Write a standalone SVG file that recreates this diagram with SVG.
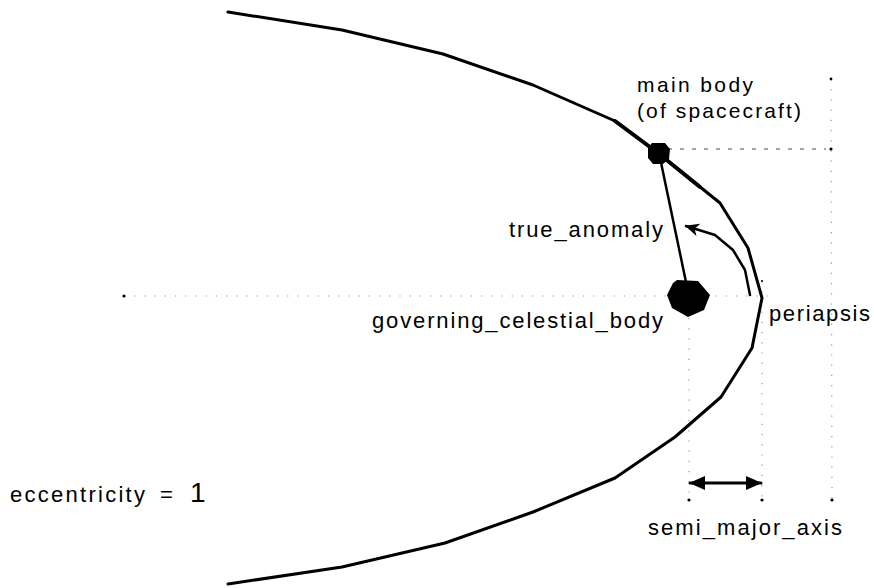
<svg xmlns="http://www.w3.org/2000/svg" width="874" height="588" viewBox="0 0 874 588">
<style>
  .lbl { font-family: "Liberation Sans", Arial, sans-serif; font-size: 22px; fill: #000; }
  .sm { font-size: 21px; }
  .orbit { fill: none; stroke: #000; stroke-width: 3; stroke-linejoin: round; stroke-linecap: round; }
  .line { fill: none; stroke: #000; stroke-width: 2.5; stroke-linecap: round; stroke-linejoin: round; }
  .dots { fill: none; stroke: #9a9a9a; stroke-width: 1.2; stroke-dasharray: 1.2 9; }
  .dash { fill: none; stroke: #888; stroke-width: 1.3; stroke-dasharray: 4 8; }
  .body { fill: #000; }
</style>
<defs>
  <marker id="head" markerUnits="userSpaceOnUse" markerWidth="16" markerHeight="14" refX="15" refY="7" orient="auto">
    <path d="M0,0 L16,7 L0,14 Z" fill="#000"/>
  </marker>
  <marker id="headStart" markerUnits="userSpaceOnUse" markerWidth="16" markerHeight="14" refX="1" refY="7" orient="auto">
    <path d="M16,0 L0,7 L16,14 Z" fill="#000"/>
  </marker>
  <marker id="smallHead" markerUnits="userSpaceOnUse" markerWidth="14" markerHeight="13" refX="13" refY="6.5" orient="auto">
    <path d="M0,0 L14,6.5 L0,13 L4,6.5 Z" fill="#000"/>
  </marker>
</defs>

<g id="guides">
  <line class="dots" x1="124" y1="296" x2="770" y2="296"/>
  <line class="dash" x1="668" y1="149" x2="826" y2="149"/>
  <line class="dots" x1="831" y1="79" x2="832" y2="500"/>
  <line class="dots" x1="762" y1="281" x2="762" y2="500"/>
  <line class="dots" x1="689" y1="318" x2="689" y2="500"/>
  <circle cx="124" cy="296" r="1.6" fill="#000"/>
  <circle cx="831" cy="79" r="1.4" fill="#000"/>
  <circle cx="831" cy="149" r="1.6" fill="#000"/>
  <circle cx="689" cy="500" r="1.6" fill="#000"/>
  <circle cx="762" cy="500" r="1.6" fill="#000"/>
  <circle cx="832" cy="500" r="1.6" fill="#000"/>
  <circle cx="762" cy="281" r="1" fill="#000"/>
</g>

<g id="orbit">
  <polyline class="orbit" points="228,12 342,30 443,54 533,85 615,121 658,153 720,203 748,248 762,298 752,348 721,397 675,437 615,478 533,512 445,543 342,567 228,584"/>
  <polyline class="orbit" style="stroke-width:4" points="615,121 658,153 700,187"/>
</g>

<g id="connectors">
  <line class="line" x1="659" y1="153" x2="686" y2="282"/>
  <polyline class="line" points="750,295 745,270 733,250 715,235 686,226" marker-end="url(#smallHead)"/>
  <line class="orbit" x1="690" y1="483" x2="761" y2="483" marker-start="url(#headStart)" marker-end="url(#head)"/>
</g>

<g id="main_body">
  <polygon class="body" points="652,143 665,143 670,149 669,159 663,164 653,164 648,158 648,148"/>
  <text class="lbl sm" x="637" y="92" textLength="116" lengthAdjust="spacing">main body</text>
  <text class="lbl sm" x="637" y="118" textLength="164" lengthAdjust="spacing">(of spacecraft)</text>
</g>

<g id="governing_celestial_body">
  <polygon class="body" points="677,280 698,281 710,295 704,310 688,317 672,308 667,295 673,283"/>
  <text class="lbl" x="372" y="328" textLength="291" lengthAdjust="spacing">governing_celestial_body</text>
</g>

<g id="true_anomaly">
  <text class="lbl" x="509" y="237" textLength="154" lengthAdjust="spacing">true_anomaly</text>
</g>

<g id="periapsis">
  <text class="lbl" x="769" y="321" textLength="101" lengthAdjust="spacing">periapsis</text>
</g>

<g id="semi_major_axis">
  <text class="lbl" x="648" y="535" textLength="194" lengthAdjust="spacing">semi_major_axis</text>
</g>

<g id="eccentricity">
  <text class="lbl" x="10" y="502" textLength="135" lengthAdjust="spacing">eccentricity</text>
  <text class="lbl" x="160" y="502">=</text>
  <text class="lbl" x="190" y="502" style="font-size:28px">1</text>
</g>
</svg>
